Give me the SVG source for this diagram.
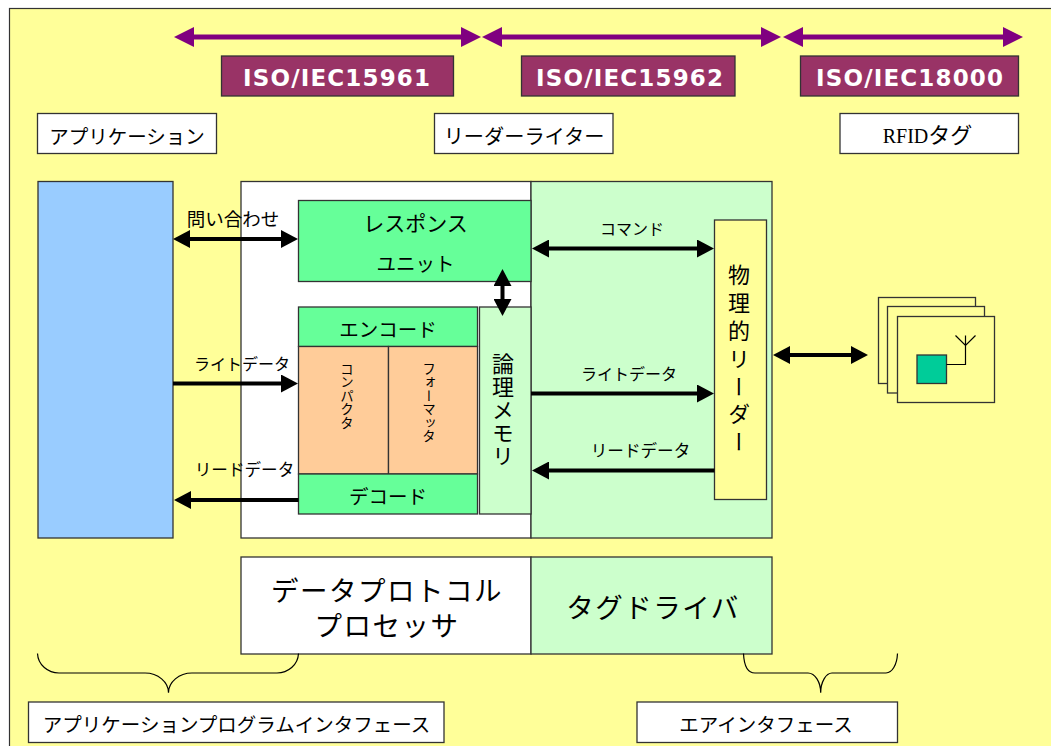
<svg xmlns="http://www.w3.org/2000/svg" width="1051" height="746" viewBox="0 0 1051 746">
<style>
text{font-family:"Noto Sans CJK JP","Noto Sans",sans-serif;fill:#000;text-anchor:middle}
.box{stroke:#333;stroke-width:1.3}
.w{fill:#fff}.g{fill:#66ff99}.l{fill:#ccffcc}.o{fill:#ffcc99}.y{fill:#ffff99}
.iso{fill:#993366}
.isot{font-family:"DejaVu Sans",Verdana,sans-serif;font-weight:bold;font-size:23px;fill:#fff}
.t20{font-size:19.5px}.t21{font-size:20.2px}.t16{font-size:16px}.t165{font-size:16.600px}.t18{font-size:18.500px}.t28{font-size:27.500px;letter-spacing:1.5px}
.v{writing-mode:vertical-rl;text-anchor:start}
.v14{font-size:13.500px}.v22{font-size:22px}
.ar{stroke:#000;stroke-width:4;fill:none}
.pu{stroke:#800080;stroke-width:5;fill:none;marker-start:url(#pa);marker-end:url(#pa)}
.both{marker-start:url(#ka);marker-end:url(#ka)}
.end{marker-end:url(#ka)}
.thin{stroke:#000;stroke-width:1.2;fill:none}
</style>
<defs>
<marker id="ka" markerUnits="userSpaceOnUse" markerWidth="17" markerHeight="18" viewBox="0 -9 17 18" refX="0" refY="0" orient="auto-start-reverse"><path d="M0,-9L17,0L0,9Z" fill="#000"/></marker>
<marker id="pa" markerUnits="userSpaceOnUse" markerWidth="21" markerHeight="20" viewBox="0 -10 21 20" refX="0" refY="0" orient="auto-start-reverse"><path d="M0,-10L20,0L0,10Z" fill="#800080"/></marker>
</defs>
<rect x="9.500" y="8.500" width="1060" height="760" fill="#ffff99" stroke="#333" stroke-width="1.2"/>

<g id="iso15961"><rect class="box iso" x="221.500" y="56" width="232" height="40"/><text class="isot" x="336.500" y="86" textLength="187">ISO/IEC15961</text></g>
<g id="iso15962"><rect class="box iso" x="521.500" y="56" width="213.500" height="40"/><text class="isot" x="629.500" y="86" textLength="187">ISO/IEC15962</text></g>
<g id="iso18000"><rect class="box iso" x="800.500" y="56" width="218" height="40"/><text class="isot" x="909.500" y="86" textLength="187">ISO/IEC18000</text></g>

<g id="label-app"><rect class="box w" x="37.500" y="113.500" width="179" height="40"/><text class="t20" x="127" y="144">アプリケーション</text></g>
<g id="label-rw"><rect class="box w" x="434.500" y="113.500" width="178.500" height="40"/><text class="t21" x="524" y="144">リーダーライター</text></g>
<g id="label-tag"><rect class="box w" x="840" y="113.500" width="178.500" height="40"/><text font-size="22" x="927.500" y="143"><tspan style="font-family:'Liberation Serif',serif" font-size="20">RFID</tspan>タグ</text></g>

<g id="application"><rect class="box" fill="#99ccff" x="38" y="181.500" width="135" height="356.500"/></g>
<g id="processor-back"><rect class="box w" x="241" y="181.500" width="290" height="356.500"/></g>
<g id="driver-back"><rect class="box l" x="531" y="181.500" width="241" height="356.500"/></g>

<g id="response"><rect class="box g" x="298.500" y="200.500" width="232.500" height="81"/><text font-size="21" x="415.500" y="231">レスポンス</text><text class="t20" x="415.500" y="271">ユニット</text></g>
<g id="encode"><rect class="box g" x="298.500" y="307" width="179" height="39.500"/><text class="t20" x="388" y="337">エンコード</text></g>
<g id="compactor"><rect class="box o" x="298.500" y="346.500" width="90" height="127.500"/><text class="v v14" x="347" y="362">コンパクタ</text></g>
<g id="formatter"><rect class="box o" x="388.500" y="346.500" width="89" height="127.500"/><text class="v v14" x="429" y="362">フォーマッタ</text></g>
<g id="decode"><rect class="box g" x="298.500" y="474" width="179" height="40"/><text class="t20" x="388" y="504">デコード</text></g>
<g id="memory"><rect class="box l" x="479.500" y="307" width="51.500" height="207"/><text class="v v22" x="503" y="353" letter-spacing="1">論理メモリ</text></g>
<g id="phys-reader"><rect class="box y" x="714.500" y="220" width="52" height="279.500"/><text class="v v22" x="739" y="264" letter-spacing="5.800">物理的リーダー</text></g>

<g id="tags">
<rect class="box y" x="878.500" y="297.500" width="97" height="86"/>
<rect class="box y" x="887.500" y="306.500" width="97" height="86.500"/>
<rect class="box y" x="897.500" y="316.500" width="97" height="86"/>
<rect class="box" fill="#00cc99" x="917" y="355" width="29.500" height="28.500"/>
<path class="thin" d="M946.500,364.500H965.500V335.500M955.500,335.500L965.500,345.500L975.500,335.500"/>
</g>

<g id="proto"><rect class="box w" x="241" y="557" width="290" height="97"/><text class="t28" x="387"><tspan x="387" y="601">データプロトコル</tspan><tspan x="387" y="636">プロセッサ</tspan></text></g>
<g id="tagdriver"><rect class="box l" x="531" y="557" width="241" height="97"/><text class="t28" x="653" y="618">タグドライバ</text></g>

<g id="connectors">
<path class="pu" d="M194,37H461"/>
<path class="pu" d="M502,37H761"/>
<path class="pu" d="M803,37H1003"/>
<path class="ar both" d="M190,239H281"/>
<path class="ar end" d="M173,383.500H281"/>
<path class="ar end" d="M298.500,500H191"/>
<path class="ar both" d="M502.500,286V299"/>
<path class="ar both" d="M549,248.500H697"/>
<path class="ar end" d="M531,393.500H697"/>
<path class="ar end" d="M714.500,470.500H549"/>
<path class="ar both" d="M790,355H851"/>
</g>

<g id="labels">
<text class="t18" x="233" y="226">問い合わせ</text>
<text class="t16" x="242" y="370">ライトデータ</text>
<text class="t165" x="244.500" y="476">リードデータ</text>
<text class="t16" x="632" y="235">コマンド</text>
<text class="t16" x="629" y="380">ライトデータ</text>
<text class="t165" x="640.500" y="457">リードデータ</text>
</g>

<g id="brace-left"><path class="thin" d="M37.500,653.500C38,665 48,673 59,673H145C158,673 168.500,682 168.500,692.700C168.500,682 179,673 192,673H277C288,673 298,665 298.500,653.500"/></g>
<g id="brace-right"><path class="thin" d="M743.500,653.500C744,665 747,673 755,673H808C815,673 820.700,682 820.700,692.700C820.700,682 826,673 832,673H886C892,673 897,665 897.500,653.500"/></g>
<g id="api"><rect class="box w" x="28.500" y="702" width="415.500" height="40.500"/><text class="t20" x="236.500" y="732">アプリケーションプログラムインタフェース</text></g>
<g id="air"><rect class="box w" x="637" y="702" width="260.500" height="40.500"/><text class="t20" x="766" y="732">エアインタフェース</text></g>
</svg>
